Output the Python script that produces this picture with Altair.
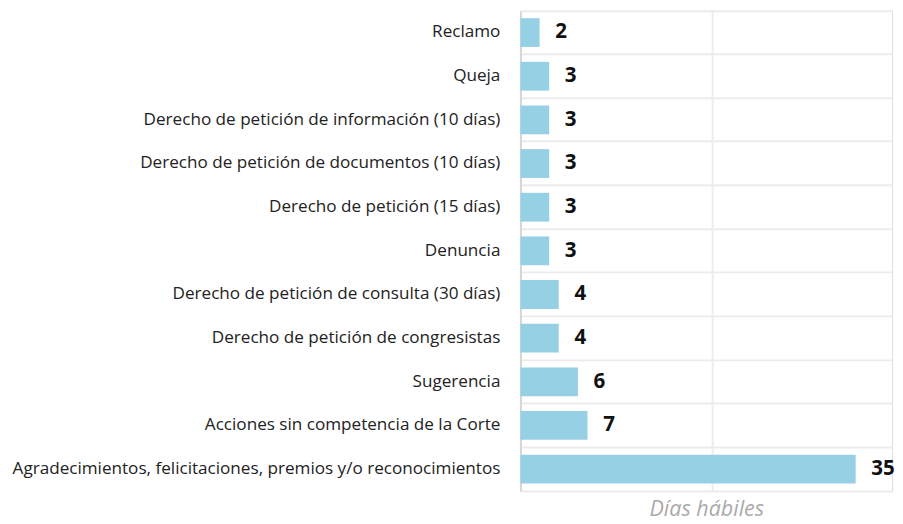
import altair as alt
import pandas as pd

categorias = [
    "Reclamo",
    "Queja",
    "Derecho de petición de información (10 días)",
    "Derecho de petición de documentos (10 días)",
    "Derecho de petición (15 días)",
    "Denuncia",
    "Derecho de petición de consulta (30 días)",
    "Derecho de petición de congresistas",
    "Sugerencia",
    "Acciones sin competencia de la Corte",
    "Agradecimientos, felicitaciones, premios y/o reconocimientos",
]
dias = [2, 3, 3, 3, 3, 3, 4, 4, 6, 7, 35]
x_ticks = [0, 20]
x_domain = [0, 38.8]

df = pd.DataFrame({"categoria": categorias, "dias": dias})

FONT = "Open Sans"

y_enc = alt.Y(
    "categoria:N",
    sort=categorias,
    title=None,
    scale=alt.Scale(paddingInner=0, paddingOuter=0),
    axis=alt.Axis(
        bandPosition=0,
        grid=True,
        gridColor="#ececec",
        gridWidth=2,
        domainColor="#d6d6d6",
        domainWidth=2,
        ticks=False,
        labelPadding=21,
        labelFontSize=17.5,
        labelColor="#222222",
        labelFont=FONT,
        labelLimit=700,
        minExtent=524,
    ),
)

x_enc = alt.X(
    "dias:Q",
    scale=alt.Scale(domain=x_domain, nice=False),
    axis=alt.Axis(
        values=x_ticks,
        labels=False,
        ticks=False,
        grid=True,
        gridColor="#ececec",
        gridWidth=2,
        domainColor="#ececec",
        domainWidth=2,
        title="Días hábiles",
        titleFont=FONT,
        titleFontStyle="italic",
        titleFontWeight="normal",
        titleFontSize=22,
        titleColor="#aaaaaa",
        titlePadding=8,
    ),
)

base = alt.Chart(df).encode(y=y_enc, x=x_enc)

bars = base.mark_bar(color="#96d0e5", height={"band": 0.66})
labels = base.mark_text(
    align="left", baseline="middle", dx=16, fontSize=21, fontWeight="bold",
    color="#111111", font=FONT
).encode(text="dias:Q")

chart = (
    alt.layer(bars, labels)
    .properties(width=380, height=491, padding={"left": 0, "top": -3, "right": 0, "bottom": 0})
    .configure_view(stroke=None)
    .configure(background="white")
)

chart.save("out.html", embed_options={"renderer": "svg", "actions": False})
